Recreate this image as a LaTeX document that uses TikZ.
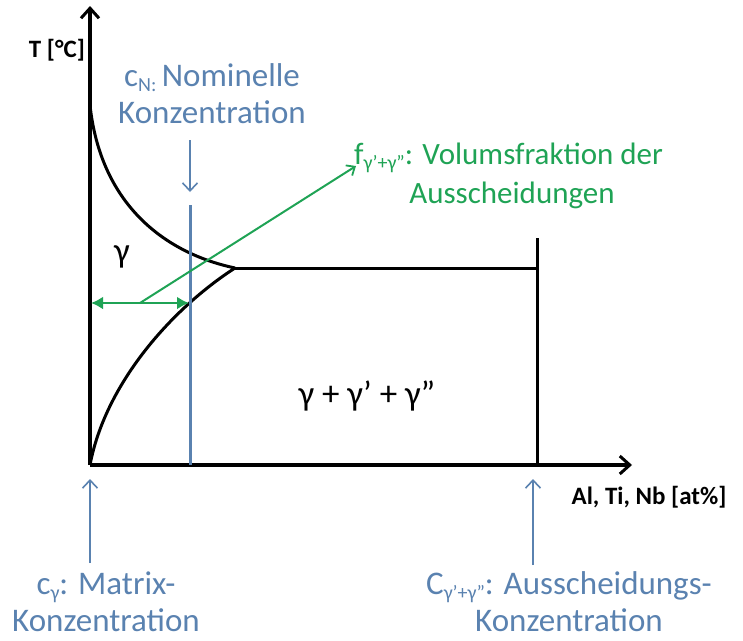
\documentclass[tikz,border=0pt]{standalone}
\usepackage{fontspec}
\setmainfont{Carlito}
\usetikzlibrary{arrows.meta}
\definecolor{myblue}{HTML}{5A82B0}
\definecolor{mygreen}{HTML}{1FA355}
\tikzset{
  ax/.style={line width=3.2pt,-{Straight Barb[length=10pt,width=18pt,line width=3pt]}},
  curve/.style={line width=3pt},
  blueline/.style={myblue,line width=3pt},
  bluearr/.style={myblue,line width=1.8pt,-{Straight Barb[length=8pt,width=15pt,line width=1.6pt]}},
  greenarr/.style={mygreen,line width=2pt,-{Straight Barb[length=7pt,width=12pt,line width=1.8pt]}},
  greendbl/.style={mygreen,line width=2.4pt,{Latex[length=12pt,width=13pt]}-{Latex[length=12pt,width=13pt]}},
  bluetxt/.style={myblue,font=\fontsize{33}{37}\selectfont,align=center,inner sep=0pt},
  greentxt/.style={mygreen,font=\fontsize{31}{37}\selectfont,align=center,inner sep=0pt},
  blacktxt/.style={font=\fontsize{35}{37}\selectfont,inner sep=0pt},
  labtxt/.style={font=\fontsize{25}{30}\selectfont\bfseries,inner sep=0pt}
}
\newcommand{\sbs}[1]{\raisebox{-0.3ex}{\fontsize{20}{20}\selectfont #1}}
\begin{document}
\begin{tikzpicture}[x=1pt,y=-1pt]
\useasboundingbox (0,0) rectangle (743,640);
% coordinates
\coordinate (O) at (90,465);
\coordinate (Ytop) at (90,6);
\coordinate (Xend) at (632,465);
\coordinate (U0) at (90,105);
\coordinate (tip) at (235,268);
\coordinate (hR) at (537,268);
\coordinate (vT) at (537,238);
\coordinate (vB) at (537,465);
\coordinate (bT) at (190,205);
\coordinate (bB) at (190,465);
\coordinate (nA) at (190,140);
\coordinate (nB) at (190,192);
\coordinate (gL) at (91,303);
\coordinate (gR) at (189,303);
\coordinate (gS) at (140,303);
\coordinate (gE) at (356,166);
\coordinate (mA) at (90,563);
\coordinate (mB) at (90,479);
\coordinate (aA) at (533,565);
\coordinate (aB) at (533,479);
% axes
\draw[ax] (O) -- (Ytop);
\draw[ax] (O) -- (Xend);
% curves
\draw[curve] (U0) .. controls (100,200) and (160,252) .. (tip);
\draw[curve] (O) .. controls (105,385) and (170,310) .. (tip);
\draw[curve] (tip) -- (hR);
\draw[curve] (vT) -- (vB);
% blue line and arrows
\draw[blueline] (bT) -- (bB);
\draw[bluearr] (nA) -- (nB);
\draw[bluearr] (mA) -- (mB);
\draw[bluearr] (aA) -- (aB);
% green arrows
\draw[greendbl] (gL) -- (gR);
\draw[greenarr] (gS) -- (gE);
% texts
\node[labtxt] (T) at (57,50) {T [°C]};
\node[labtxt] (X) at (649,497) {Al, Ti, Nb [at\%]};
\node[blacktxt] (g1) at (122,257) {γ};
\node[blacktxt] (g3) at (367,396) {γ + γ’ + γ”};
\node[bluetxt] (cN) at (212,94) {c\sbs{N:}\,Nominelle\\Konzentration};
\node[greentxt,anchor=west] (f1) at (354,158) {f\sbs{γ’+γ”}: Volumsfraktion der};
\node[greentxt] (f2) at (512,195) {Ausscheidungen};
\node[bluetxt] (cg) at (106,602) {c\sbs{γ}: Matrix-\\Konzentration};
\node[bluetxt] (cA) at (569,602) {C\sbs{γ’+γ”}: Ausscheidungs-\\Konzentration};
\end{tikzpicture}
\end{document}
